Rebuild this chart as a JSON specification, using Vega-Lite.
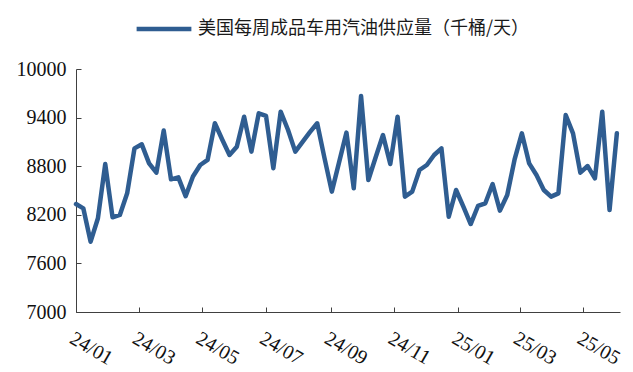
{
  "$schema": "https://vega.github.io/schema/vega-lite/v6.json",
  "width": 544,
  "height": 243,
  "autosize": {"type": "none"},
  "padding": {"left": 76, "top": 69, "right": 13, "bottom": 60},
  "background": "white",
  "config": {"view": {"stroke": null}},
  "data": {
    "values": [
      {"date": "2024-01-01", "value": 8333},
      {"date": "2024-01-08", "value": 8280},
      {"date": "2024-01-15", "value": 7868},
      {"date": "2024-01-22", "value": 8157},
      {"date": "2024-01-29", "value": 8827},
      {"date": "2024-02-05", "value": 8170},
      {"date": "2024-02-12", "value": 8198},
      {"date": "2024-02-19", "value": 8465},
      {"date": "2024-02-26", "value": 9020},
      {"date": "2024-03-04", "value": 9070},
      {"date": "2024-03-11", "value": 8835},
      {"date": "2024-03-18", "value": 8720},
      {"date": "2024-03-25", "value": 9240},
      {"date": "2024-04-01", "value": 8638},
      {"date": "2024-04-08", "value": 8662},
      {"date": "2024-04-15", "value": 8430},
      {"date": "2024-04-22", "value": 8673},
      {"date": "2024-04-29", "value": 8815},
      {"date": "2024-05-06", "value": 8877},
      {"date": "2024-05-13", "value": 9330},
      {"date": "2024-05-20", "value": 9130},
      {"date": "2024-05-27", "value": 8938},
      {"date": "2024-06-03", "value": 9040},
      {"date": "2024-06-10", "value": 9410},
      {"date": "2024-06-17", "value": 8980},
      {"date": "2024-06-24", "value": 9453},
      {"date": "2024-07-01", "value": 9420},
      {"date": "2024-07-08", "value": 8775},
      {"date": "2024-07-15", "value": 9473},
      {"date": "2024-07-22", "value": 9250},
      {"date": "2024-07-29", "value": 8980},
      {"date": "2024-08-05", "value": 9100},
      {"date": "2024-08-12", "value": 9220},
      {"date": "2024-08-19", "value": 9330},
      {"date": "2024-08-26", "value": 8900},
      {"date": "2024-09-02", "value": 8486},
      {"date": "2024-09-09", "value": 8850},
      {"date": "2024-09-16", "value": 9214},
      {"date": "2024-09-23", "value": 8527},
      {"date": "2024-09-30", "value": 9667},
      {"date": "2024-10-07", "value": 8630},
      {"date": "2024-10-14", "value": 8910},
      {"date": "2024-10-21", "value": 9185},
      {"date": "2024-10-28", "value": 8827},
      {"date": "2024-11-04", "value": 9411},
      {"date": "2024-11-11", "value": 8424},
      {"date": "2024-11-18", "value": 8486},
      {"date": "2024-11-25", "value": 8753},
      {"date": "2024-12-02", "value": 8815},
      {"date": "2024-12-09", "value": 8938},
      {"date": "2024-12-16", "value": 9020},
      {"date": "2024-12-23", "value": 8177},
      {"date": "2024-12-30", "value": 8506},
      {"date": "2025-01-06", "value": 8300},
      {"date": "2025-01-13", "value": 8086},
      {"date": "2025-01-20", "value": 8309},
      {"date": "2025-01-27", "value": 8342},
      {"date": "2025-02-03", "value": 8580},
      {"date": "2025-02-10", "value": 8251},
      {"date": "2025-02-17", "value": 8444},
      {"date": "2025-02-24", "value": 8880},
      {"date": "2025-03-03", "value": 9206},
      {"date": "2025-03-10", "value": 8835},
      {"date": "2025-03-17", "value": 8691},
      {"date": "2025-03-24", "value": 8506},
      {"date": "2025-03-31", "value": 8424},
      {"date": "2025-04-07", "value": 8465},
      {"date": "2025-04-14", "value": 9432},
      {"date": "2025-04-21", "value": 9206},
      {"date": "2025-04-28", "value": 8720},
      {"date": "2025-05-05", "value": 8802},
      {"date": "2025-05-12", "value": 8650},
      {"date": "2025-05-19", "value": 9473},
      {"date": "2025-05-26", "value": 8259},
      {"date": "2025-06-02", "value": 9206}
    ]
  },
  "mark": {"type": "line", "strokeWidth": 4.5, "strokeJoin": "round", "strokeCap": "round"},
  "encoding": {
    "x": {
      "field": "date",
      "type": "temporal",
      "scale": {
        "type": "utc",
        "domain": [
          {"year": 2024, "month": 1, "date": 1, "utc": true},
          {"year": 2025, "month": 6, "date": 5, "utc": true}
        ]
      },
      "axis": {
        "title": null,
        "grid": false,
        "values": [
          {"year": 2024, "month": 1, "date": 1, "utc": true},
          {"year": 2024, "month": 3, "date": 1, "utc": true},
          {"year": 2024, "month": 5, "date": 1, "utc": true},
          {"year": 2024, "month": 7, "date": 1, "utc": true},
          {"year": 2024, "month": 9, "date": 1, "utc": true},
          {"year": 2024, "month": 11, "date": 1, "utc": true},
          {"year": 2025, "month": 1, "date": 1, "utc": true},
          {"year": 2025, "month": 3, "date": 1, "utc": true},
          {"year": 2025, "month": 5, "date": 1, "utc": true}
        ],
        "format": "%y/%m",
        "labelAngle": 30,
        "labelAlign": "left",
        "labelBaseline": "top",
        "labelFont": "Liberation Serif",
        "labelFontSize": 20,
        "labelColor": "#111111",
        "labelPadding": 21,
        "labelOverlap": false,
        "labelFlush": false,
        "tickSize": -5,
        "tickColor": "#404040",
        "domainColor": "#404040"
      }
    },
    "y": {
      "field": "value",
      "type": "quantitative",
      "scale": {"domain": [7000, 10000], "nice": false, "zero": false},
      "axis": {
        "title": null,
        "grid": false,
        "values": [7000, 7600, 8200, 8800, 9400, 10000],
        "format": "d",
        "labelFont": "Liberation Serif",
        "labelFontSize": 20,
        "labelColor": "#111111",
        "labelPadding": 15,
        "labelOverlap": false,
        "labelFlush": false,
        "tickSize": -5,
        "tickColor": "#404040",
        "domainColor": "#404040"
      }
    },
    "color": {
      "datum": "美国每周成品车用汽油供应量（千桶/天）",
      "scale": {"range": ["#2f5d91"]},
      "legend": {
        "title": null,
        "orient": "none",
        "legendX": 58,
        "legendY": -70,
        "symbolType": "stroke",
        "symbolSize": 3000,
        "symbolStrokeWidth": 4.5,
        "labelFont": "Noto Sans CJK SC",
        "labelFontSize": 18,
        "labelColor": "#1a1a1a",
        "labelOffset": 4,
        "labelLimit": 500
      }
    }
  }
}
